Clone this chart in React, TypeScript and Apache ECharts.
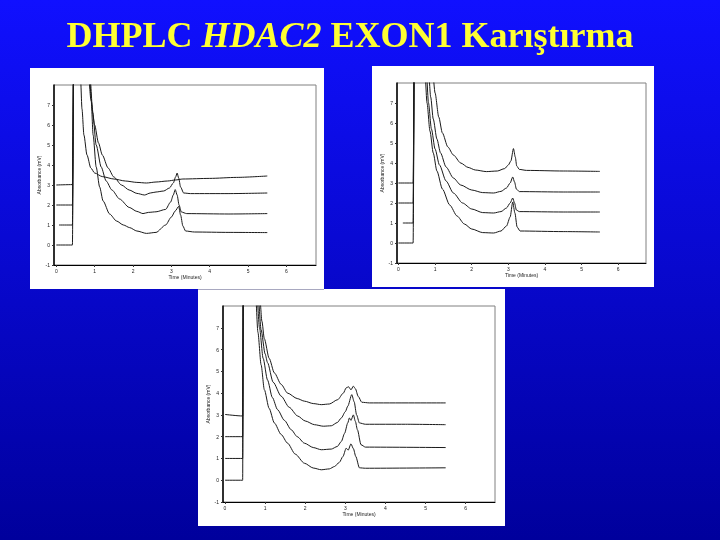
import React, { useEffect, useRef } from 'react';
import * as echarts from 'echarts';

// ---------- data ----------
const xTicks = [0, 1, 2, 3, 4, 5, 6];
const yTicks = [-1, 0, 1, 2, 3, 4, 5, 6, 7];
const xAxisName = 'Time (Minutes)';
const yAxisName = 'Absorbance (mV)';
const titleMain = 'DHPLC ';
const titleGene = 'HDAC2';
const titleRest = ' EXON1 Karıştırma';

// Panel 1 (top-left)
const p1Trace4 = [[0, 3.0], [0.42, 3.02], [0.46, 12], [0.63, 8.4], [0.67, 6.8], [0.72, 5.5], [0.8, 4.5], [0.9, 3.85], [1.0, 3.6], [1.2, 3.42], [1.5, 3.3], [1.8, 3.2], [2.1, 3.13], [2.35, 3.1], [2.6, 3.15], [2.9, 3.2], [3.1, 3.25], [3.3, 3.3], [4.0, 3.33], [4.7, 3.38], [5.5, 3.45]];
const p1Trace3 = [[0, 2.0], [0.42, 2.0], [0.46, 12], [0.84, 8.5], [0.9, 7.3], [1.0, 6.0], [1.1, 5.1], [1.2, 4.5], [1.35, 3.85], [1.5, 3.4], [1.7, 3.0], [1.9, 2.75], [2.1, 2.58], [2.3, 2.5], [2.45, 2.6], [2.6, 2.65], [2.8, 2.7], [2.95, 2.85], [3.05, 3.1], [3.11, 3.4], [3.15, 3.6], [3.19, 3.35], [3.24, 2.9], [3.32, 2.6], [3.5, 2.57], [4.5, 2.57], [5.5, 2.6]];
const p1Trace2 = [[0.07, 1.0], [0.42, 1.0], [0.46, 12], [0.88, 8.4], [0.95, 6.6], [1.04, 5.0], [1.17, 3.9], [1.3, 3.2], [1.45, 2.75], [1.65, 2.3], [1.9, 1.88], [2.1, 1.68], [2.26, 1.57], [2.4, 1.63], [2.6, 1.66], [2.85, 1.78], [2.98, 2.15], [3.05, 2.5], [3.1, 2.77], [3.15, 2.5], [3.2, 2.0], [3.26, 1.65], [3.4, 1.57], [4.5, 1.55], [5.5, 1.57]];
const p1Trace1 = [[0, 0.0], [0.42, 0.0], [0.46, 12], [0.87, 8.4], [0.91, 7.2], [0.96, 5.5], [1.04, 3.9], [1.13, 2.9], [1.22, 2.2], [1.39, 1.55], [1.57, 1.2], [1.75, 1.0], [1.91, 0.87], [2.1, 0.7], [2.35, 0.58], [2.6, 0.63], [2.85, 1.0], [3.0, 1.4], [3.1, 1.7], [3.19, 1.93], [3.24, 1.5], [3.3, 0.95], [3.37, 0.7], [3.6, 0.65], [4.5, 0.63], [5.5, 0.62]];

// Panel 2 (top-right)
const p2Trace4 = [[0, 3.0], [0.4, 3.0], [0.44, 12], [0.93, 8.6], [1.0, 7.5], [1.1, 6.3], [1.2, 5.5], [1.35, 4.8], [1.5, 4.4], [1.7, 4.0], [1.9, 3.78], [2.1, 3.65], [2.4, 3.57], [2.7, 3.6], [2.9, 3.72], [3.0, 3.9], [3.07, 4.1], [3.14, 4.72], [3.19, 4.3], [3.23, 3.85], [3.3, 3.68], [3.5, 3.63], [4.5, 3.6], [5.5, 3.58]];
const p2Trace3 = [[0, 2.0], [0.4, 2.0], [0.44, 12], [0.82, 8.6], [0.88, 7.3], [0.95, 6.2], [1.05, 5.2], [1.15, 4.5], [1.3, 3.8], [1.5, 3.25], [1.7, 2.9], [2.0, 2.65], [2.3, 2.52], [2.6, 2.5], [2.8, 2.58], [2.95, 2.75], [3.05, 3.0], [3.12, 3.3], [3.17, 3.05], [3.22, 2.7], [3.3, 2.57], [4.5, 2.55], [5.5, 2.55]];
const p2Trace2 = [[0.12, 1.0], [0.4, 1.0], [0.44, 12], [0.76, 8.6], [0.82, 7.0], [0.9, 5.7], [1.0, 4.7], [1.12, 3.9], [1.3, 3.1], [1.5, 2.5], [1.75, 2.0], [2.0, 1.7], [2.3, 1.52], [2.6, 1.5], [2.8, 1.57], [2.95, 1.75], [3.05, 2.0], [3.12, 2.25], [3.17, 2.0], [3.22, 1.65], [3.3, 1.57], [4.5, 1.55], [5.5, 1.55]];
const p2Trace1 = [[0, 0.0], [0.4, 0.0], [0.44, 12], [0.72, 8.6], [0.78, 7.0], [0.86, 5.6], [0.95, 4.5], [1.05, 3.6], [1.2, 2.7], [1.4, 1.9], [1.6, 1.35], [1.8, 0.95], [2.0, 0.7], [2.3, 0.52], [2.6, 0.5], [2.8, 0.6], [2.95, 0.85], [3.05, 1.3], [3.12, 2.05], [3.18, 1.5], [3.24, 0.8], [3.32, 0.6], [4.5, 0.57], [5.5, 0.55]];

// Panel 3 (bottom)
const p3Trace4 = [[0, 3.02], [0.44, 2.95], [0.46, 12], [0.86, 8.6], [0.92, 7.3], [0.98, 6.5], [1.1, 5.6], [1.23, 4.93], [1.4, 4.4], [1.56, 4.0], [1.8, 3.75], [1.98, 3.63], [2.2, 3.52], [2.4, 3.47], [2.6, 3.5], [2.81, 3.7], [2.95, 4.0], [3.02, 4.24], [3.08, 4.29], [3.14, 4.15], [3.2, 4.32], [3.25, 4.2], [3.32, 3.85], [3.41, 3.58], [3.6, 3.55], [5.5, 3.55]];
const p3Trace3 = [[0, 2.0], [0.44, 2.0], [0.46, 12], [0.82, 8.6], [0.9, 6.9], [1.0, 5.8], [1.06, 5.4], [1.2, 4.5], [1.4, 3.86], [1.6, 3.35], [1.81, 2.95], [2.0, 2.72], [2.23, 2.55], [2.45, 2.48], [2.65, 2.5], [2.8, 2.65], [2.9, 2.86], [3.0, 3.15], [3.06, 3.4], [3.16, 3.93], [3.22, 3.6], [3.28, 3.0], [3.35, 2.63], [3.5, 2.57], [4.5, 2.57], [5.5, 2.55]];
const p3Trace2 = [[0, 1.0], [0.44, 1.0], [0.46, 12], [0.79, 8.6], [0.86, 7.0], [0.95, 5.6], [1.06, 4.6], [1.18, 3.8], [1.31, 3.24], [1.48, 2.75], [1.65, 2.32], [1.8, 2.0], [1.98, 1.7], [2.2, 1.5], [2.4, 1.4], [2.65, 1.43], [2.8, 1.55], [2.9, 1.78], [2.98, 2.15], [3.06, 2.63], [3.1, 2.86], [3.14, 2.75], [3.2, 3.0], [3.25, 2.7], [3.3, 2.32], [3.39, 1.63], [3.5, 1.52], [5.5, 1.5]];
const p3Trace1 = [[0, 0.0], [0.44, 0.0], [0.46, 12], [0.76, 8.6], [0.82, 6.8], [0.9, 5.3], [0.98, 4.16], [1.1, 3.3], [1.23, 2.63], [1.4, 2.1], [1.56, 1.7], [1.75, 1.2], [1.98, 0.78], [2.2, 0.56], [2.4, 0.48], [2.6, 0.52], [2.73, 0.63], [2.85, 0.82], [2.94, 1.09], [3.02, 1.47], [3.07, 1.38], [3.14, 1.67], [3.2, 1.45], [3.26, 1.09], [3.35, 0.57], [3.5, 0.55], [5.5, 0.57]];

const panelTraces = [
  [p1Trace1, p1Trace2, p1Trace3, p1Trace4],
  [p2Trace1, p2Trace2, p2Trace3, p2Trace4],
  [p3Trace1, p3Trace2, p3Trace3, p3Trace4],
];

// ---------- layout ----------
const panels = [
  { box: [30, 68, 294, 221], grid: { left: 54, top: 85, width: 262, height: 180 }, xMin: -0.06, xMax: 6.77 },
  { box: [372, 66, 282, 221], grid: { left: 397, top: 83, width: 249, height: 180 }, xMin: -0.04, xMax: 6.76 },
  { box: [198, 289, 307, 237], grid: { left: 223, top: 306, width: 272, height: 196 }, xMin: -0.05, xMax: 6.73 },
];

const FONT = 'Liberation Sans, Arial, sans-serif';
const SERIF = 'Liberation Serif, Times New Roman, serif';

export default function App() {
  const ref = useRef<HTMLDivElement>(null);
  useEffect(() => {
    if (!ref.current) return;
    const chart = echarts.init(ref.current, undefined, { renderer: 'svg' });

    const grids = panels.map((p) => ({
      ...p.grid,
      show: true,
      borderColor: '#808080',
      borderWidth: 1,
      backgroundColor: 'transparent',
    }));

    const xAxes = panels.map((p, i) => ({
      type: 'value',
      gridIndex: i,
      min: p.xMin,
      max: p.xMax,
      axisLine: { show: true, onZero: false, lineStyle: { color: '#000', width: 1 } },
      axisTick: { show: true, length: 2, customValues: xTicks, lineStyle: { color: '#333' } },
      axisLabel: { customValues: xTicks, fontSize: 5, margin: 3, color: '#222', fontFamily: FONT },
      splitLine: { show: false },
      name: xAxisName,
      nameLocation: 'middle',
      nameGap: 9,
      nameTextStyle: { fontSize: 5, color: '#222', fontFamily: FONT },
    }));

    const yAxes = panels.map((p, i) => ({
      type: 'value',
      gridIndex: i,
      min: -1,
      max: 8,
      axisLine: { show: true, onZero: false, lineStyle: { color: '#000', width: 1.5 } },
      axisTick: { show: true, length: 2, customValues: yTicks, lineStyle: { color: '#333' } },
      axisLabel: { customValues: yTicks, fontSize: 5, margin: 4, color: '#222', fontFamily: FONT },
      splitLine: { show: false },
      name: yAxisName,
      nameLocation: 'middle',
      nameRotate: 90,
      nameGap: 12,
      nameTextStyle: { fontSize: 5, color: '#222', fontFamily: FONT },
    }));

    const series: any[] = [];
    panelTraces.forEach((traces, pi) => {
      traces.forEach((tr) => {
        series.push({
          type: 'line',
          xAxisIndex: pi,
          yAxisIndex: pi,
          data: tr,
          showSymbol: false,
          symbol: 'none',
          smooth: 0.25,
          smoothMonotone: 'x',
          clip: true,
          silent: true,
          lineStyle: { color: '#1a1a1a', width: 1 },
        });
      });
    });

    const graphic: any[] = [
      {
        type: 'rect',
        z: -100,
        shape: { x: 0, y: 0, width: 720, height: 540 },
        style: {
          fill: new echarts.graphic.LinearGradient(0, 0, 0, 1, [
            { offset: 0, color: '#1010ff' },
            { offset: 1, color: '#00009c' },
          ]),
        },
      },
      ...panels.map((p) => ({
        type: 'rect',
        z: -50,
        shape: { x: p.box[0], y: p.box[1], width: p.box[2], height: p.box[3] },
        style: { fill: '#ffffff' },
      })),
      {
        type: 'line',
        z: -40,
        shape: { x1: 198, y1: 289.5, x2: 324, y2: 289.5 },
        style: { stroke: '#a8a8c0', lineWidth: 1 },
      },
      {
        type: 'text',
        x: 350,
        y: 35,
        style: {
          text: `{n|${titleMain}}{i|${titleGene}}{n|${titleRest}}`,
          align: 'center',
          verticalAlign: 'middle',
          rich: {
            n: { fontFamily: SERIF, fontSize: 36, fontWeight: 'bold', fill: '#ffff33', color: '#ffff33' },
            i: { fontFamily: SERIF, fontSize: 36, fontWeight: 'bold', fontStyle: 'italic', fill: '#ffff33', color: '#ffff33' },
          },
        },
      },
    ];

    chart.setOption({
      animation: false,
      grid: grids,
      xAxis: xAxes,
      yAxis: yAxes,
      series,
      graphic,
    });
    return () => chart.dispose();
  }, []);

  return <div ref={ref} style={{ position: 'fixed', left: 0, top: 0, width: 720, height: 540 }} />;
}
